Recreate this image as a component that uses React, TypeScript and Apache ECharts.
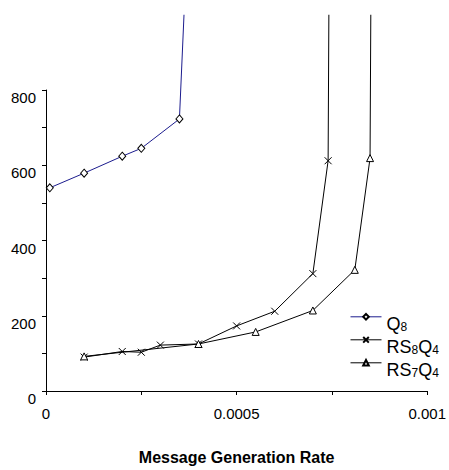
import React, { useEffect, useRef } from "react";
import * as echarts from "echarts";

const q8: [number, number][] = [
  [0.00001, 540], [0.0001, 579], [0.0002, 624], [0.00025, 645], [0.00035, 723], [0.000362, 1000],
];
const rs8q4: [number, number][] = [
  [0.0001, 90], [0.0002, 105], [0.00025, 103], [0.0003, 122], [0.0004, 125],
  [0.0005, 173], [0.0006, 212], [0.0007, 312], [0.00074, 612], [0.000742, 1000],
];
const rs7q4: [number, number][] = [
  [0.0001, 92], [0.0004, 125], [0.00055, 157], [0.0007, 214], [0.00081, 322], [0.00085, 619], [0.000852, 1000],
];
const yLabels = [0, 200, 400, 600, 800];
const xLabels = [0, 0.0005, 0.001];
const xLabelText = ["0", "0.0005", "0.001"];
const seriesNames = ["Q8", "RS8Q4", "RS7Q4"];

const FONT = "Liberation Sans, Arial, sans-serif";
const CROSS = "path://M0,0L10,10M10,0L0,10";

function toData(arr: [number, number][]) {
  return arr.map((p, i) =>
    i === arr.length - 1 && p[1] >= 1000 ? { value: p, symbol: "none" } : { value: p }
  );
}

export default function App() {
  const ref = useRef<HTMLDivElement>(null);
  useEffect(() => {
    if (!ref.current) return;
    const chart = echarts.init(ref.current, null, { renderer: "svg" });
    const legendRich = {
      a: { fontSize: 18, fontFamily: FONT, color: "#000", verticalAlign: "bottom", lineHeight: 18 },
      b: { fontSize: 12, fontFamily: FONT, color: "#000", verticalAlign: "bottom", lineHeight: 11 },
    };
    const nameFmt: Record<string, string> = {
      Q8: "{a|Q}{b|8}",
      RS8Q4: "{a|RS}{b|8}{a|Q}{b|4}",
      RS7Q4: "{a|RS}{b|7}{a|Q}{b|4}",
    };
    const legends = seriesNames.map((n, i) => ({
      orient: "vertical",
      left: 350,
      top: 329 + 23 * i - 16,
      itemWidth: 31,
      itemHeight: 7,
      itemGap: 0,
      padding: 0,
      formatter: (s: string) => nameFmt[s] || s,
      textStyle: { rich: legendRich, padding: [14, 0, 0, 0] },
      lineStyle: { width: 1 },
      data: [n],
    }));
    chart.setOption({
      animation: false,
      backgroundColor: "#fff",
      grid: { left: 46, right: 20, top: 90, bottom: 75, containLabel: false },
      legend: legends,
      xAxis: {
        type: "value",
        min: 0,
        max: 0.001,
        interval: 0.00025,
        splitLine: { show: false },
        axisLine: { show: true, onZero: false, lineStyle: { color: "#000", width: 1 } },
        axisTick: { show: true, length: 4, lineStyle: { color: "#000" } },
        axisLabel: {
          fontSize: 15,
          fontFamily: FONT,
          color: "#000",
          margin: 15,
          showMaxLabel: true,
          formatter: (v: number) => {
            const i = xLabels.findIndex((x) => Math.abs(x - v) < 1e-9);
            return i >= 0 ? xLabelText[i] : "";
          },
        },
        name: "Message Generation Rate",
        nameLocation: "middle",
        nameGap: 58,
        nameTextStyle: { fontSize: 16, fontWeight: "bold", fontFamily: FONT, color: "#000" },
      },
      yAxis: {
        type: "value",
        min: 0,
        max: 800,
        interval: 100,
        splitLine: { show: false },
        axisLine: { show: true, lineStyle: { color: "#000", width: 1 } },
        axisTick: { show: true, length: 4, lineStyle: { color: "#000" } },
        axisLabel: {
          fontSize: 15,
          fontFamily: FONT,
          color: "#000",
          margin: 10,
          verticalAlign: "top",
          formatter: (v: number) => (yLabels.includes(Math.round(v)) ? String(Math.round(v)) : ""),
        },
      },
      series: [
        {
          name: "Q8",
          type: "line",
          clip: false,
          data: toData(q8),
          symbol: "diamond",
          symbolSize: [7, 8],
          lineStyle: { color: "#1c1c8e", width: 1 },
          itemStyle: { color: "#fff", borderColor: "#000", borderWidth: 1 },
        },
        {
          name: "RS8Q4",
          type: "line",
          clip: false,
          data: toData(rs8q4),
          symbol: CROSS,
          symbolSize: 7,
          lineStyle: { color: "#000", width: 1 },
          itemStyle: { color: "#fff", borderColor: "#000", borderWidth: 1 },
        },
        {
          name: "RS7Q4",
          type: "line",
          clip: false,
          data: toData(rs7q4),
          symbol: "triangle",
          symbolSize: 7,
          lineStyle: { color: "#000", width: 1 },
          itemStyle: { color: "#fff", borderColor: "#000", borderWidth: 1 },
        },
      ],
    });
    return () => chart.dispose();
  }, []);
  return <div ref={ref} style={{ width: 449, height: 470, position: "absolute", left: 0, top: 0 }} />;
}
